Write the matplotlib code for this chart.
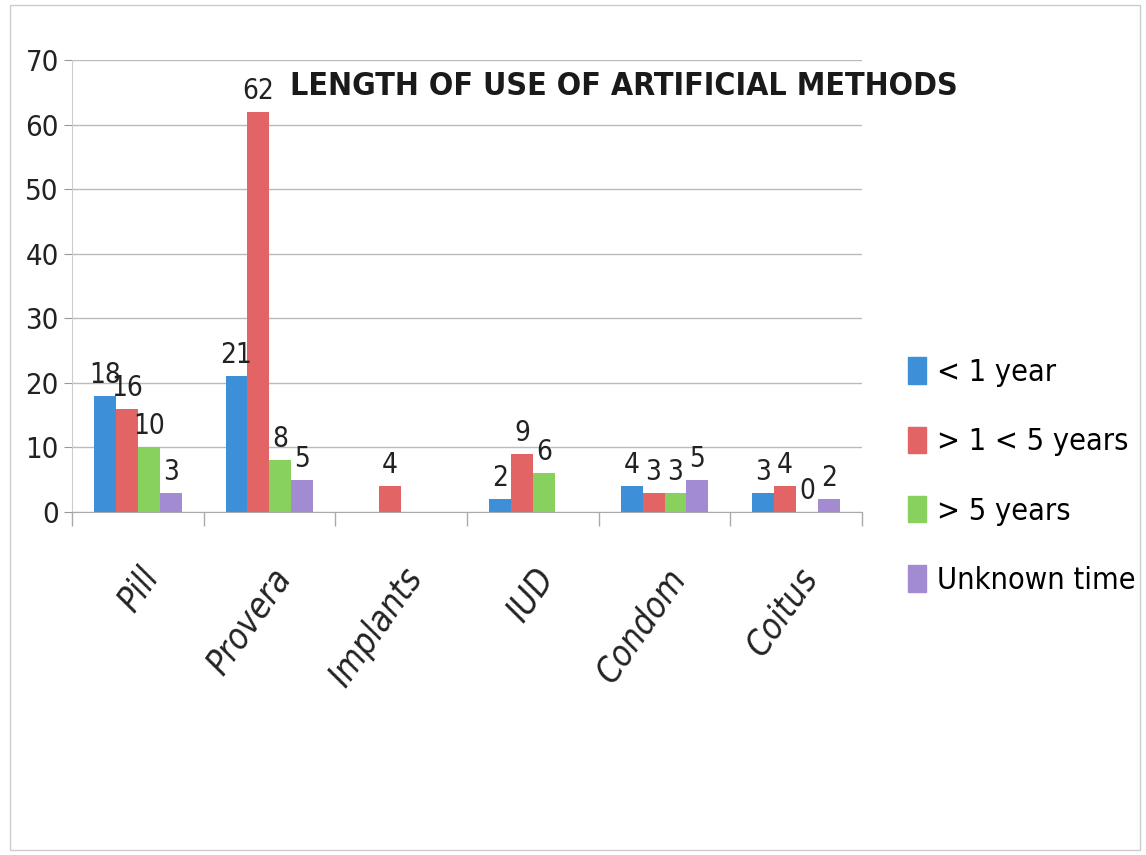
import numpy as np
import matplotlib.pyplot as plt
from matplotlib.patches import Rectangle, Patch

plt.rcParams['font.family'] = ['DejaVu Sans']
plt.rcParams['font.stretch'] = 'condensed'

methods = ['Pill', 'Provera', 'Implants', 'IUD', 'Condom', 'Coitus']
series_names = ['< 1 year', '> 1 < 5 years', '> 5 years', 'Unknown time']
less_1 = [18, 21, np.nan, 2, 4, 3]
one_to_5 = [16, 62, 4, 9, 3, 4]
more_5 = [10, 8, np.nan, 6, 3, 0]
unknown = [3, 5, np.nan, np.nan, 5, 2]
colors = ['#3d8fd8', '#e26464', '#88d15e', '#a28bd0']
yticks = [0, 10, 20, 30, 40, 50, 60, 70]

fig = plt.figure(figsize=(11.46, 8.55), dpi=100)
ax = fig.add_axes([0.0628, 0.4012, 0.6894, 0.5287])

x = np.arange(len(methods))
w = 0.167
all_series = [less_1, one_to_5, more_5, unknown]
for j, vals in enumerate(all_series):
    vals = np.array(vals, dtype=float)
    h = np.nan_to_num(vals)
    bars = ax.bar(x + (j - 1.5) * w, h, w, color=colors[j], label=series_names[j])
    labels = ['' if np.isnan(v) else f'{v:g}' for v in vals]
    ax.bar_label(bars, labels=labels, padding=5, fontsize=20, color='#222222')

ax.set_xlim(-0.5, len(methods) - 0.5)
ax.set_ylim(0, 70)
ax.set_yticks(yticks)
ax.tick_params(axis='y', labelsize=21, colors='#999999', labelcolor='#222222', length=6, width=0.8)
ax.yaxis.grid(True, color='#bbbbbb', linewidth=1)
ax.set_axisbelow(True)

ax.set_xticks(x)
ax.set_xticklabels(methods, rotation=55, ha='right', rotation_mode='anchor',
                   fontsize=25, style='italic', color='#222222')
ax.tick_params(axis='x', length=0, pad=36)
ax.set_xticks(np.arange(-0.5, len(methods)), minor=True)
ax.tick_params(axis='x', which='minor', length=10, color='#aaaaaa', width=1)

for s in ['top', 'right']:
    ax.spines[s].set_visible(False)
ax.spines['left'].set_color('#cccccc')
ax.spines['bottom'].set_color('#aaaaaa')

title = fig.text(0.253, 0.899, 'LENGTH OF USE OF ARTIFICIAL METHODS', fontsize=30,
                 fontweight='bold', color='#1a1a1a', va='center', ha='left')
# squeeze the title so it spans the same width as in the original
fig.canvas.draw()
tw = title.get_window_extent().width
title.set_fontsize(30 * 667 / tw)

handles = [Patch(color=c) for c in colors]
fig.legend(handles, series_names, loc='center left', bbox_to_anchor=(0.779, 0.443),
           frameon=False, fontsize=22, handlelength=0.6, handleheight=0.95,
           handletextpad=0.35, labelspacing=1.3, borderpad=0)

fig.patches.append(Rectangle((0.009, 0.006), 0.986, 0.988, transform=fig.transFigure,
                             fill=False, edgecolor='#cccccc', linewidth=1))

fig.savefig('out.png', dpi=100)
